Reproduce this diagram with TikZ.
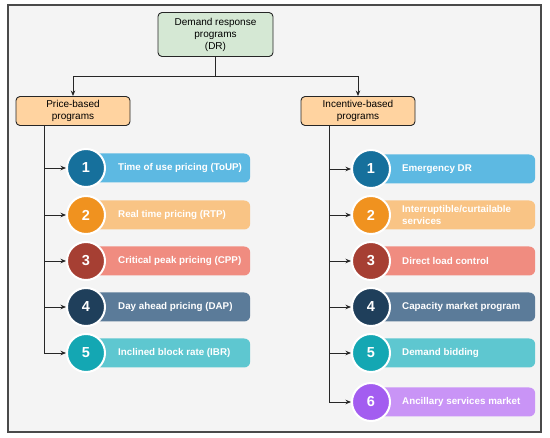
\documentclass[tikz,border=0pt]{standalone}
\usepackage{fontspec}
\setmainfont{Liberation Sans}
\usetikzlibrary{arrows.meta}
\definecolor{bgc}{HTML}{F4F4F4}
\definecolor{framec}{HTML}{4A4A4A}
\definecolor{greenc}{HTML}{D5E8D4}
\definecolor{orangec}{HTML}{FFD3A0}
\definecolor{cAd}{HTML}{16709C}
\definecolor{cAl}{HTML}{5DB9E2}
\definecolor{cBd}{HTML}{F0921F}
\definecolor{cBl}{HTML}{F9C485}
\definecolor{cCd}{HTML}{A63F33}
\definecolor{cCl}{HTML}{F08C80}
\definecolor{cDd}{HTML}{1F3F5B}
\definecolor{cDl}{HTML}{5B7B99}
\definecolor{cEd}{HTML}{14A7B3}
\definecolor{cEl}{HTML}{5EC7D0}
\definecolor{cFd}{HTML}{A35DF0}
\definecolor{cFl}{HTML}{C994F6}
\begin{document}
\begin{tikzpicture}[x=1pt,y=-1pt,
  hbox/.style={draw=black!85, line width=0.9pt, rounded corners=4pt, align=center,
    font=\fontsize{10}{12}\selectfont, inner sep=1pt},
  bar/.style={rounded corners=6pt, minimum height=29pt, minimum width=164pt, anchor=west, inner sep=0pt},
  circ/.style={circle, draw=white, line width=2pt, minimum size=38pt, inner sep=0pt,
    text=white, font=\fontsize{14.5}{14.5}\selectfont\bfseries},
  lbl/.style={anchor=west, text=white, align=left, inner sep=0pt,
    font=\fontsize{9.8}{12}\selectfont\bfseries},
  conn/.style={draw=black!85, line width=0.9pt},
  arr/.style={conn, -{Stealth[length=5.5pt,width=4.5pt]}}
]
\useasboundingbox (0,0) rectangle (550,438);
\fill[white] (0,0) rectangle (550,438);
\draw[fill=bgc, draw=framec, line width=1.2pt] (8,5) rectangle (541,432);

% header boxes
\node[hbox, fill=greenc, minimum width=115pt, minimum height=44pt] (dr) at (215.5,34.5)
  {Demand response\\programs\\(DR)};
\node[hbox, fill=orangec, minimum width=114pt, minimum height=29pt] (pb) at (73,111)
  {Price-based\\programs};
\node[hbox, fill=orangec, minimum width=114pt, minimum height=29pt] (ib) at (358,111)
  {Incentive-based\\programs};

\coordinate (split) at (215.5,76);
\draw[conn] (dr.south) -- (split);
\draw[arr] (split) -| (pb.north);
\draw[arr] (split) -| (ib.north);

% left column
\coordinate (vL) at (44,0);
\foreach \i/\y/\cd/\cl/\t in {1/168/cAd/cAl/Time of use pricing (ToUP),
                              2/215/cBd/cBl/Real time pricing (RTP),
                              3/261/cCd/cCl/Critical peak pricing (CPP),
                              4/307/cDd/cDl/Day ahead pricing (DAP),
                              5/353/cEd/cEl/Inclined block rate (IBR)} {
  \node[bar, fill=\cl] (pbar\i) at (86,\y) {};
  \node[circ, fill=\cd] (pc\i) at (86,\y) {\i};
  \node[lbl] (pt\i) at (118,\y) {\t};
  \draw[arr] (vL |- pc\i) -- (pc\i.west);
}
\draw[conn] (pb.south -| vL) -- (vL |- pc5);

% right column
\coordinate (vR) at (329,0);
\foreach \i/\y/\cd/\cl/\t in {1/169/cAd/cAl/Emergency DR,
                              2/215/cBd/cBl/{Interruptible/curtailable\\services},
                              3/261/cCd/cCl/Direct load control,
                              4/307/cDd/cDl/Capacity market program,
                              5/353/cEd/cEl/Demand bidding,
                              6/402/cFd/cFl/Ancillary services market} {
  \node[bar, fill=\cl] (ibar\i) at (371,\y) {};
  \node[circ, fill=\cd] (ic\i) at (371,\y) {\i};
  \node[lbl] (it\i) at (402,\y) {\t};
  \draw[arr] (vR |- ic\i) -- (ic\i.west);
}
\draw[conn] (ib.south -| vR) -- (vR |- ic6);
\end{tikzpicture}
\end{document}
